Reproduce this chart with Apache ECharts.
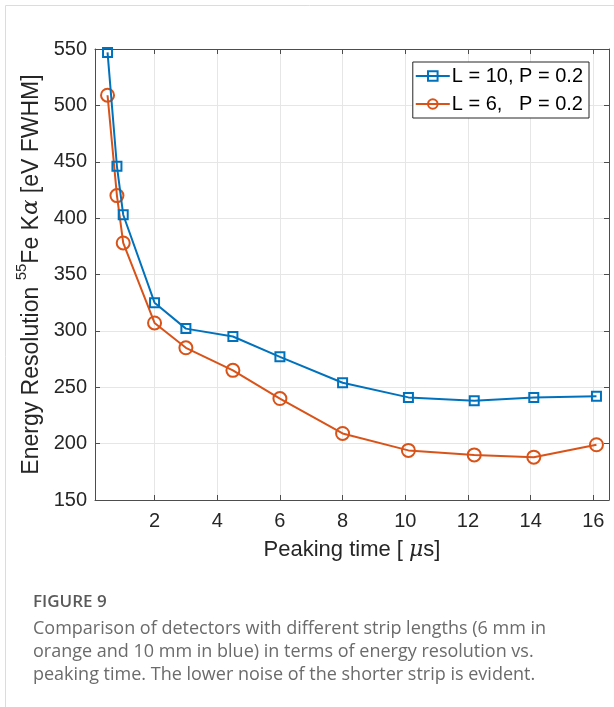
<!DOCTYPE html>
<html>
<head>
<meta charset="utf-8">
<script src="https://cdn.jsdelivr.net/npm/echarts@6/dist/echarts.min.js"></script>
<style>
  html, body { margin: 0; padding: 0; background: #fff; }
  #chart { width: 614px; height: 707px; }
</style>
</head>
<body>
<div id="chart"></div>
<script>
// peaking time [us]
var peaking_time = [0.5, 0.8, 1.0, 2, 3, 4.5, 6, 8, 10.1, 12.2, 14.1, 16.1];
// energy resolution [eV FWHM]
var res_l10 = [547, 446, 403, 325, 302, 295, 277, 254, 241, 238, 241, 242];
var res_l6 = [509, 420, 378, 307, 285, 265, 240, 209, 194, 190, 188, 199];
var x_ticks = [2, 4, 6, 8, 10, 12, 14, 16];
var series_names = ['L = 10, P = 0.2', 'L = 6,   P = 0.2'];
var caption_title = 'FIGURE 9';
var caption_lines = [
    'Comparison of detectors with different strip lengths (6 mm in',
    'orange and 10 mm in blue) in terms of energy resolution vs.',
    'peaking time. The lower noise of the shorter strip is evident.'
];

var blue = '#0072BD';
var orange = '#D95319';
var axis_color = '#4d4d4d';
var text_color = '#262626';

function pairs(xs, ys) {
    return xs.map(function (x, i) { return [x, ys[i]]; });
}

var chart = echarts.init(document.getElementById('chart'));

var x_axis_base = {
    type: 'value',
    min: 0.1,
    max: 16.5,
    axisLine: { show: true, lineStyle: { color: axis_color, width: 1 } },
    axisTick: { show: true, inside: true, length: 5, customValues: x_ticks, lineStyle: { color: axis_color } },
    splitLine: { show: false }
};
var y_axis_base = {
    type: 'value',
    min: 150,
    max: 550,
    interval: 50,
    axisLine: { show: true, lineStyle: { color: axis_color, width: 1 } },
    axisTick: { show: true, inside: true, length: 5, lineStyle: { color: axis_color } },
    splitLine: { show: false }
};

/* Frame and caption below the plot. */
var caption_graphics = [
    { type: 'line', shape: { x1: 5.5, y1: 5.5, x2: 614, y2: 5.5 }, style: { stroke: '#dcdcdc', lineWidth: 1 } },
    { type: 'line', shape: { x1: 5.5, y1: 5.5, x2: 5.5, y2: 707 }, style: { stroke: '#dcdcdc', lineWidth: 1 } },
    {
        type: 'text',
        style: { x: 33, y: 602, text: caption_title, verticalAlign: 'middle', font: '600 17px "Open Sans"', fill: '#5a5a5a' }
    }
];
caption_lines.forEach(function (line, i) {
    caption_graphics.push({
        type: 'text',
        style: { x: 33, y: 629 + i * 23, text: line, verticalAlign: 'middle', font: '18px "Open Sans"', fill: '#6b6b6b' }
    });
});

var option = {
    animation: false,
    textStyle: { fontFamily: 'Liberation Sans, Arial, sans-serif' },
    grid: { left: 95, top: 49, right: 5, bottom: 207, containLabel: false },
    legend: {
        data: series_names,
        orient: 'vertical',
        right: 25,
        top: 62,
        itemWidth: 34,
        itemHeight: 12,
        itemGap: 8,
        padding: [4, 6, 4, 2],
        backgroundColor: '#fff',
        borderColor: text_color,
        borderWidth: 1,
        borderRadius: 0,
        textStyle: { fontSize: 20, color: '#000', fontFamily: 'Liberation Sans', padding: [0, 0, 0, -3] }
    },
    xAxis: [
        Object.assign({}, x_axis_base, {
            position: 'bottom',
            name: 'Peaking time [ {mu|μ}s]',
            nameLocation: 'middle',
            nameGap: 39,
            nameTextStyle: {
                fontSize: 22, color: text_color, fontFamily: 'Liberation Sans',
                rich: { mu: { fontSize: 22, fontStyle: 'italic', fontFamily: 'DejaVu Serif', color: text_color } }
            },
            axisLabel: { customValues: x_ticks, fontSize: 20, color: text_color, margin: 11 },
            splitLine: { show: true, lineStyle: { color: '#e6e6e6', width: 1 } }
        }),
        Object.assign({}, x_axis_base, {
            position: 'top',
            axisLabel: { show: false }
        })
    ],
    yAxis: [
        Object.assign({}, y_axis_base, {
            position: 'left',
            name: '{a|Energy Resolution }{sup|55}{a|Fe K}{al|α}{a| [eV FWHM]}',
            nameLocation: 'middle',
            nameRotate: 90,
            nameGap: 43,
            nameTextStyle: {
                color: text_color,
                rich: {
                    a: { fontSize: 23, fontFamily: 'Liberation Sans', color: text_color, lineHeight: 28, verticalAlign: 'bottom' },
                    sup: { fontSize: 15, fontFamily: 'Liberation Sans', color: text_color, lineHeight: 28, verticalAlign: 'top' },
                    al: { fontSize: 23, fontFamily: 'DejaVu Serif', fontStyle: 'italic', color: text_color, lineHeight: 28, verticalAlign: 'bottom' }
                }
            },
            axisLabel: { fontSize: 20, color: text_color, margin: 8 },
            splitLine: { show: true, lineStyle: { color: '#e6e6e6', width: 1 } }
        }),
        Object.assign({}, y_axis_base, {
            position: 'right',
            axisLabel: { show: false }
        })
    ],
    graphic: caption_graphics,
    series: [
        {
            name: series_names[0],
            type: 'line',
            data: pairs(peaking_time, res_l10),
            symbol: 'rect',
            symbolSize: 9,
            color: blue,
            lineStyle: { color: blue, width: 2 },
            itemStyle: { color: 'rgba(255,255,255,0)', borderColor: blue, borderWidth: 2 },
            z: 3
        },
        {
            name: series_names[1],
            type: 'line',
            data: pairs(peaking_time, res_l6),
            symbol: 'circle',
            symbolSize: 13,
            color: orange,
            lineStyle: { color: orange, width: 2 },
            itemStyle: { color: 'rgba(255,255,255,0)', borderColor: orange, borderWidth: 2 },
            z: 2
        }
    ]
};
chart.setOption(option);

/* Responsiveness. */
window.addEventListener('resize', function () {
    chart.resize();
});
</script>
</body>
</html>
